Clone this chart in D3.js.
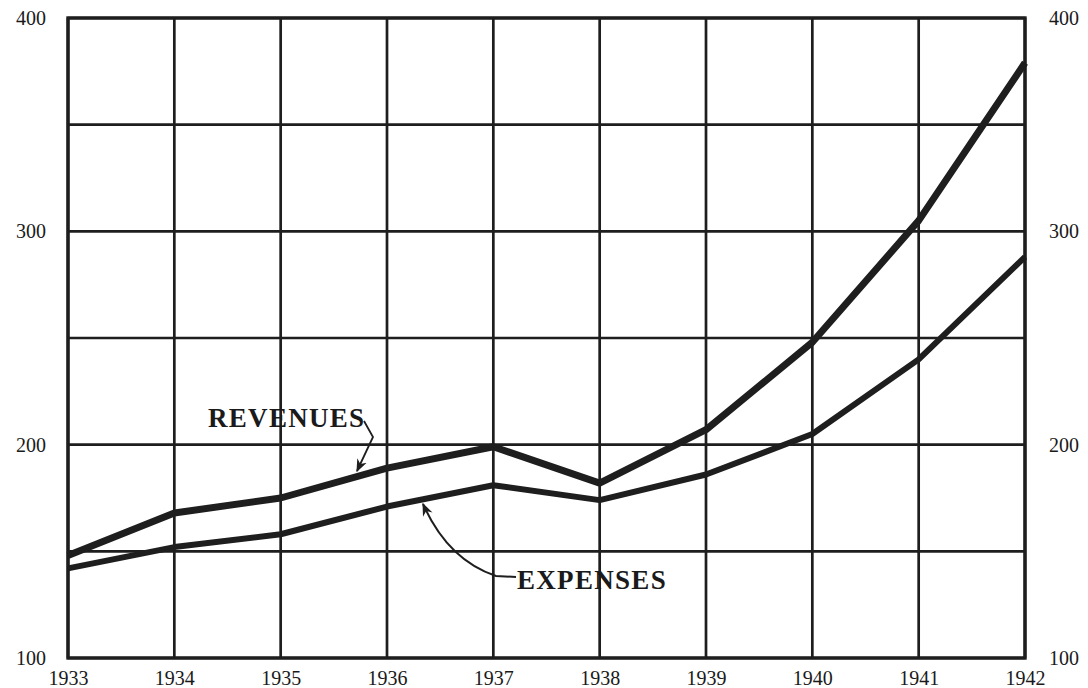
<!DOCTYPE html>
<html>
<head>
<meta charset="utf-8">
<script src="https://cdn.jsdelivr.net/npm/d3@7"></script>
<style>
  html, body { margin: 0; padding: 0; background: #fff; }
  svg { display: block; }
  text { font-family: "Liberation Serif", "DejaVu Serif", serif; fill: #1a1a1a; }
</style>
</head>
<body>
<svg id="chart" width="1088" height="688"></svg>
<script>
const years = [1933, 1934, 1935, 1936, 1937, 1938, 1939, 1940, 1941, 1942];
const revenues = [148, 168, 175, 189, 199, 182, 207, 248, 305, 379];
const expenses = [142, 152, 158, 171, 181, 174, 186, 205, 240, 288];
const yTickLabels = [100, 200, 300, 400];
const yGridValues = [100, 150, 200, 250, 300, 350, 400];
const seriesLabels = ["REVENUES", "EXPENSES"];

const ink = "#1e1e1e";
const svg = d3.select("#chart");
const pL = 68, pR = 1025, pT = 18, pB = 658;

const x = d3.scaleLinear().domain([1933, 1942]).range([pL, pR]);
const y = d3.scaleLinear().domain([100, 400]).range([pB, pT]);

// grid
const g = svg.append("g");
g.selectAll("line.v").data(years).join("line")
  .attr("x1", d => x(d)).attr("x2", d => x(d))
  .attr("y1", pT).attr("y2", pB)
  .attr("stroke", ink).attr("stroke-width", 2.7);
g.selectAll("line.h").data(yGridValues).join("line")
  .attr("x1", pL).attr("x2", pR)
  .attr("y1", d => y(d)).attr("y2", d => y(d))
  .attr("stroke", ink).attr("stroke-width", 2.7);
g.append("rect").attr("x", pL).attr("y", pT)
  .attr("width", pR - pL).attr("height", pB - pT)
  .attr("fill", "none").attr("stroke", ink).attr("stroke-width", 3.4);

// axes labels using d3 axes (domain/ticks hidden)
const axL = d3.axisLeft(y).tickValues(yTickLabels).tickSize(0).tickPadding(22).tickFormat(d3.format("d"));
const axR = d3.axisRight(y).tickValues(yTickLabels).tickSize(0).tickPadding(24).tickFormat(d3.format("d"));
const axB = d3.axisBottom(x).tickValues(years).tickSize(0).tickPadding(13).tickFormat(d3.format("d"));
[
  [axL, `translate(${pL},0)`],
  [axR, `translate(${pR},0)`],
  [axB, `translate(0,${pB})`]
].forEach(([ax, tr]) => {
  const a = svg.append("g").attr("transform", tr).call(ax);
  a.select(".domain").remove();
  a.selectAll("text").style("font-family", '"Liberation Serif", serif')
    .style("font-size", "20px").attr("fill", "#1a1a1a");
});

// lines
const line = d3.line().x((d, i) => x(years[i])).y(d => y(d)).curve(d3.curveLinear);
svg.append("path").datum(revenues).attr("d", line)
  .attr("fill", "none").attr("stroke", ink).attr("stroke-width", 7)
  .attr("stroke-linejoin", "round");
svg.append("path").datum(expenses).attr("d", line)
  .attr("fill", "none").attr("stroke", ink).attr("stroke-width", 6)
  .attr("stroke-linejoin", "round");

// arrow marker
svg.append("defs").append("marker")
  .attr("id", "arr").attr("viewBox", "0 0 10 10")
  .attr("refX", 9).attr("refY", 5)
  .attr("markerWidth", 13).attr("markerHeight", 13)
  .attr("markerUnits", "userSpaceOnUse")
  .attr("orient", "auto")
  .append("path").attr("d", "M0,1 L10,5 L0,9 L3,5 Z").attr("fill", ink);

// labels
svg.append("text").attr("x", 208).attr("y", 427)
  .style("font-size", "27px").style("font-weight", "bold").style("letter-spacing", "1.3px")
  .text(seriesLabels[0]);
svg.append("text").attr("x", 517).attr("y", 589)
  .style("font-size", "27px").style("font-weight", "bold").style("letter-spacing", "1.3px")
  .text(seriesLabels[1]);

// annotation arrows
svg.append("path")
  .attr("d", "M364,421 L373,437 Q366,452 357,471")
  .attr("fill", "none").attr("stroke", ink).attr("stroke-width", 1.8)
  .attr("marker-end", "url(#arr)");
svg.append("path")
  .attr("d", "M516,577 L496,576 Q448,560 423,504")
  .attr("fill", "none").attr("stroke", ink).attr("stroke-width", 2)
  .attr("marker-end", "url(#arr)");
</script>
</body>
</html>
